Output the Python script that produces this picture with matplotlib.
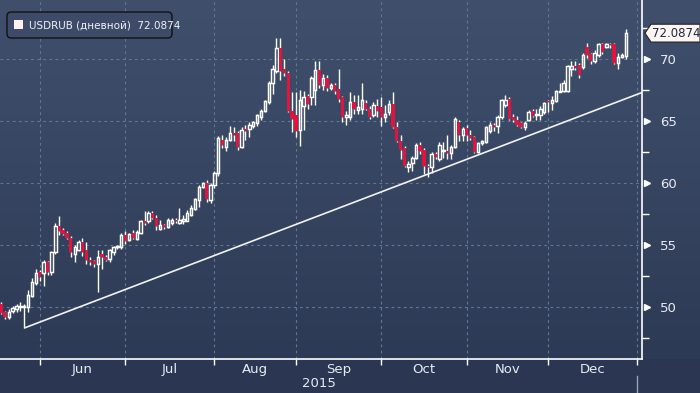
import matplotlib.pyplot as plt
import matplotlib.transforms as mtrans
from matplotlib.patches import Rectangle, Polygon, FancyBboxPatch
import numpy as np
import pandas as pd

# USDRUB daily candles, 18 May - 29 Dec 2015
first_day = '2015-05-18'
opens = [50.2, 49.6, 49.2, 49.7, 49.8, 50.0, 50.0, 50.0, 50.9, 51.9,
         52.8, 52.7, 53.6, 52.8, 54.4, 56.5, 56.2, 56.0, 55.6, 54.3,
         54.6, 55.2, 54.6, 53.8, 53.7, 53.5, 54.3, 54.0, 53.9, 54.4,
         54.8, 54.8, 55.8, 55.4, 56.0, 55.5, 56.0, 56.9, 56.9, 57.6,
         57.2, 56.3, 56.6, 56.45, 56.8, 57.0, 56.8, 56.9, 56.95, 57.4,
         57.9, 58.6, 59.7, 60.0, 58.6, 59.8, 60.8, 63.5, 62.9, 63.5,
         64.0, 64.0, 62.9, 64.35, 64.35, 64.6, 64.8, 65.3, 65.8, 66.5,
         68.1, 69.0, 70.9, 69.2, 68.9, 65.8, 65.5, 64.3, 66.2, 67.0,
         66.9, 67.5, 69.1, 67.9, 68.5, 67.7, 67.9, 67.6, 66.9, 65.3,
         65.3, 66.5, 65.9, 66.0, 66.45, 66.0, 65.5, 66.2, 66.1, 65.3,
         65.7, 66.4, 64.5, 63.4, 62.8, 61.3, 61.6, 62.0, 63.1, 62.7,
         61.4, 61.3, 62.3, 61.9, 62.6, 62.6, 62.4, 62.9, 64.9, 63.9,
         64.4, 63.9, 63.7, 62.5, 63.2, 63.3, 64.2, 64.7, 64.6, 65.3,
         66.3, 66.8, 65.3, 65.1, 64.8, 64.5, 65.1, 65.8, 65.5, 65.5,
         65.7, 66.6, 66.45, 66.6, 67.35, 67.4, 67.4, 69.2, 69.4, 69.5,
         69.35, 71.0, 70.4, 69.8, 70.3, 71.2, 71.0, 71.2, 71.2, 69.7,
         70.2, 70.25]
highs = [50.4, 49.7, 49.8, 50.1, 50.2, 50.4, 50.2, 51.4, 52.3, 53.1,
         53.0, 53.8, 53.7, 54.5, 56.8, 57.3, 56.4, 56.1, 55.7, 55.0,
         55.4, 55.6, 55.2, 54.0, 53.8, 54.6, 54.6, 54.2, 54.7, 54.9,
         55.0, 56.0, 56.1, 56.0, 56.2, 56.2, 57.0, 57.7, 57.7, 57.7,
         57.4, 57.0, 56.7, 57.2, 57.2, 57.2, 58.0, 57.4, 57.8, 58.2,
         58.8, 59.8, 60.1, 60.2, 60.0, 61.0, 63.8, 63.9, 63.7, 64.6,
         64.5, 64.2, 64.5, 64.7, 64.9, 65.0, 65.6, 66.0, 66.7, 68.2,
         69.5, 71.7, 71.7, 70.0, 69.0, 67.3, 67.3, 67.5, 67.4, 67.2,
         68.6, 69.8, 69.8, 68.8, 68.7, 68.1, 68.1, 69.2, 67.0, 65.8,
         67.3, 67.1, 67.1, 68.1, 66.7, 66.2, 66.5, 66.8, 66.9, 66.3,
         66.7, 67.3, 64.9, 63.9, 63.0, 61.8, 62.2, 63.2, 63.3, 62.8,
         61.5, 62.5, 62.5, 63.3, 63.3, 63.9, 63.1, 65.3, 65.1, 64.5,
         64.7, 64.3, 63.8, 63.3, 63.5, 64.6, 64.9, 64.8, 65.5, 66.8,
         67.1, 66.9, 65.6, 65.4, 64.9, 65.0, 65.9, 66.0, 66.0, 66.2,
         66.5, 66.7, 67.0, 67.5, 68.1, 68.3, 69.5, 69.8, 69.8, 69.7,
         70.5, 71.3, 70.5, 70.7, 71.3, 71.3, 71.3, 71.3, 71.3, 70.5,
         70.5, 72.4]
lows = [49.4, 49.0, 49.0, 49.5, 49.6, 49.7, 48.3, 49.6, 50.8, 51.8,
        52.1, 51.7, 52.6, 52.6, 54.3, 55.8, 55.8, 55.5, 54.0, 53.6,
        54.5, 54.1, 53.5, 53.4, 53.2, 51.2, 53.1, 53.7, 53.6, 54.2,
        54.7, 54.7, 55.1, 55.3, 55.5, 55.4, 55.9, 56.6, 56.8, 57.1,
        56.2, 56.2, 56.3, 56.4, 56.6, 56.8, 56.7, 56.7, 56.9, 57.3,
        57.8, 58.1, 59.6, 58.5, 58.4, 59.6, 60.6, 62.8, 62.6, 63.4,
        63.4, 62.7, 62.8, 63.5, 63.7, 64.4, 64.6, 65.1, 65.7, 66.4,
        67.2, 68.9, 68.3, 68.6, 65.7, 64.1, 63.7, 63.0, 64.3, 66.0,
        66.3, 66.3, 67.7, 67.5, 67.4, 67.5, 67.2, 66.5, 64.9, 64.7,
        65.1, 65.6, 65.6, 65.6, 65.9, 65.2, 65.3, 65.3, 64.6, 64.9,
        65.5, 64.4, 63.3, 61.9, 61.3, 60.9, 61.0, 61.9, 62.3, 60.7,
        60.5, 60.8, 61.9, 61.8, 62.0, 61.9, 61.9, 62.8, 63.4, 63.4,
        63.4, 63.5, 62.4, 62.4, 63.1, 63.2, 64.0, 64.2, 64.0, 65.2,
        66.1, 65.1, 64.9, 64.6, 64.4, 64.3, 65.0, 65.3, 65.1, 65.1,
        65.6, 65.7, 65.9, 66.5, 67.3, 67.3, 67.3, 68.6, 69.1, 68.5,
        69.2, 70.1, 69.6, 69.7, 70.2, 70.4, 70.9, 70.9, 69.6, 69.2,
        70.1, 70.0]
closes = [49.5, 49.2, 49.6, 49.9, 50.1, 50.1, 50.1, 51.0, 52.0, 52.7,
          52.4, 53.6, 52.8, 54.4, 56.5, 56.1, 55.9, 55.6, 54.4, 54.8,
          55.2, 54.4, 53.8, 53.6, 53.5, 54.0, 54.0, 53.8, 54.6, 54.8,
          54.9, 55.8, 55.3, 55.9, 55.6, 56.05, 56.9, 56.8, 57.6, 57.2,
          56.5, 56.6, 56.45, 57.0, 57.0, 56.9, 57.0, 57.1, 57.6, 58.0,
          58.7, 59.7, 60.0, 58.7, 59.8, 60.8, 63.6, 63.1, 63.5, 64.0,
          63.9, 62.9, 64.3, 64.2, 64.7, 64.9, 65.5, 65.8, 66.6, 68.1,
          69.2, 70.9, 69.0, 68.9, 65.8, 65.2, 64.2, 66.7, 66.9, 66.4,
          68.5, 69.1, 67.9, 68.5, 67.7, 67.9, 67.4, 66.8, 65.3, 65.5,
          66.5, 66.0, 66.1, 66.7, 66.0, 65.3, 66.3, 65.8, 65.3, 65.6,
          66.4, 64.5, 63.4, 62.7, 61.4, 61.5, 62.0, 63.1, 62.6, 61.4,
          61.3, 62.3, 62.1, 63.1, 62.65, 62.4, 62.9, 65.2, 63.9, 64.35,
          63.9, 63.6, 62.5, 63.2, 63.4, 64.5, 64.7, 64.5, 65.3, 66.7,
          66.7, 65.2, 65.1, 64.7, 64.5, 64.8, 65.7, 65.4, 65.6, 66.0,
          66.45, 66.5, 66.7, 67.4, 67.45, 68.1, 69.4, 69.4, 69.3, 68.7,
          70.3, 70.3, 69.8, 70.5, 71.2, 70.6, 71.2, 71.1, 69.7, 70.2,
          70.3, 72.0874]

# support line from the May low
trend_start = (6, 48.3)
trend_end_value = 67.3

month_names = ['Jun', 'Jul', 'Aug', 'Sep', 'Oct', 'Nov', 'Dec']
y_ticks = [50, 55, 60, 65, 70]
series_name = 'USDRUB (дневной)'

W, H = 700, 393
fig = plt.figure(figsize=(W / 100, H / 100), dpi=100)

# background gradient
bg = fig.add_axes([0, 0, 1, 1])
bg.axis('off')
top_c = np.array([64, 80, 108]) / 255
bot_c = np.array([45, 58, 86]) / 255
rows = np.linspace(0, 1, 393)[:, None]
grad = top_c + (bot_c - top_c) * np.clip(rows * 393 / 359, 0, 1)
grad[359:] = np.array([43, 55, 82]) / 255
bg.imshow(np.repeat(grad[:, None, :], 2, axis=1), aspect='auto', extent=[0, 1, 0, 1])
bg.set_xlim(0, 1)
bg.set_ylim(0, 1)

ax = fig.add_axes([0, 1 - 359 / H, 642 / W, 359 / H])
ax.set_facecolor('none')

n = len(closes)
dates = pd.bdate_range(first_day, periods=n + 5)
red = '#e0143c'
for j in range(n):
    o, h, l, c = opens[j], highs[j], lows[j], closes[j]
    top, bot = max(o, c), min(o, c)
    ax.vlines(j, top, h, color='white', lw=1.0, zorder=3)
    ax.vlines(j, l, bot, color='white', lw=1.0, zorder=3)
    body = max(top - bot, 0.07)
    if c >= o:
        ax.add_patch(Rectangle((j - 0.31, bot), 0.62, body, fill=False,
                               edgecolor='white', lw=1.05, zorder=4))
    else:
        ax.add_patch(Rectangle((j - 0.42, bot), 0.84, body, facecolor=red,
                               edgecolor='none', zorder=4))

x_left, x_right = -0.26, 165.2
ax.set_xlim(x_left, x_right)
ax.set_ylim(45.8, 74.76)

slope = (trend_end_value - trend_start[1]) / (x_right - trend_start[0])
ax.plot([trend_start[0], x_right],
        [trend_start[1], trend_start[1] + slope * (x_right - trend_start[0])],
        color='#f2f2f2', lw=1.2, zorder=5, solid_capstyle='butt')

# month boundaries = first business day of each month
month_idx = [i for i in range(1, len(dates)) if dates[i].month != dates[i - 1].month]
ax.set_xticks(month_idx)
ax.set_xticklabels([''] * len(month_idx))
mids = [(a + b) / 2 for a, b in zip(month_idx[:-1], month_idx[1:])]
ax.set_xticks(mids, minor=True)
ax.set_xticklabels(month_names, minor=True)
ax.tick_params(axis='x', which='major', length=4, width=1, color='white', direction='out')
ax.tick_params(axis='x', which='minor', length=0, pad=3, labelsize=9.5, labelcolor='#e8ebf2')

grid_c = '#5e7895'
for m in month_idx:
    ax.axvline(m, color=grid_c, lw=0.8, ls=(0, (2.5, 3)), zorder=1)
for v in y_ticks:
    ax.axhline(v, color=grid_c, lw=0.8, ls=(0, (2.5, 3)), zorder=1)

ax.text((x_left + month_idx[-1]) / 2, -0.068, '2015', transform=mtrans.blended_transform_factory(ax.transData, ax.transAxes),
        ha='center', va='center', fontsize=9.5, color='#e8ebf2')
ax.plot([month_idx[-1]] * 2, [0, 17 / H], color='#9aa2b5', lw=1, clip_on=False,
        transform=mtrans.blended_transform_factory(ax.transData, fig.transFigure))

ax.yaxis.tick_right()
ax.set_yticks(y_ticks)
ax.set_yticks(np.arange(47.5, 75, 5), minor=True)
ax.tick_params(axis='y', which='major', length=0, pad=13, labelsize=9.5, labelcolor='#e8ebf2')
ax.tick_params(axis='y', which='minor', length=5, width=1, color='white', direction='out')
ax.plot([1 + 5 / 642] * len(y_ticks), y_ticks, ls='none', marker='>', ms=5, color='white',
        clip_on=False, transform=mtrans.blended_transform_factory(ax.transAxes, ax.transData))

for s in ['top', 'left']:
    ax.spines[s].set_visible(False)
for s in ['bottom', 'right']:
    ax.spines[s].set_color('white')
    ax.spines[s].set_linewidth(1.2)

# last price tag
last = closes[-1]
tr = mtrans.blended_transform_factory(fig.transFigure, ax.transData)
hh = 0.72
tag = Polygon([(645 / W, last), (651 / W, last + hh), (1.0, last + hh), (1.0, last - hh), (651 / W, last - hh)],
              closed=True, facecolor='#fdf6f2', edgecolor='#222222', lw=0.8, transform=tr, clip_on=False, zorder=6)
ax.add_patch(tag)
ax.text(676 / W, last, f'{last:.4f}', transform=tr, ha='center', va='center',
        fontsize=8.5, color='#1c2742', zorder=7, clip_on=False)

# legend box
fig.patches.append(FancyBboxPatch((7 / W, 1 - 38 / H), 165 / W, 26 / H,
                                  boxstyle='round,pad=0,rounding_size=0.006', mutation_aspect=W / H,
                                  facecolor='#3d4b68', edgecolor='#111111', lw=1, transform=fig.transFigure))
fig.patches.append(Rectangle((14 / W, 1 - 29 / H), 9 / W, 9 / H, facecolor='#fff1ee',
                             edgecolor='none', transform=fig.transFigure))
fig.text(29 / W, 1 - 25 / H, f'{series_name}  {last:.4f}', ha='left', va='center',
         fontsize=7.5, color='#eef0f5')

plt.savefig('out.png', dpi=100)
